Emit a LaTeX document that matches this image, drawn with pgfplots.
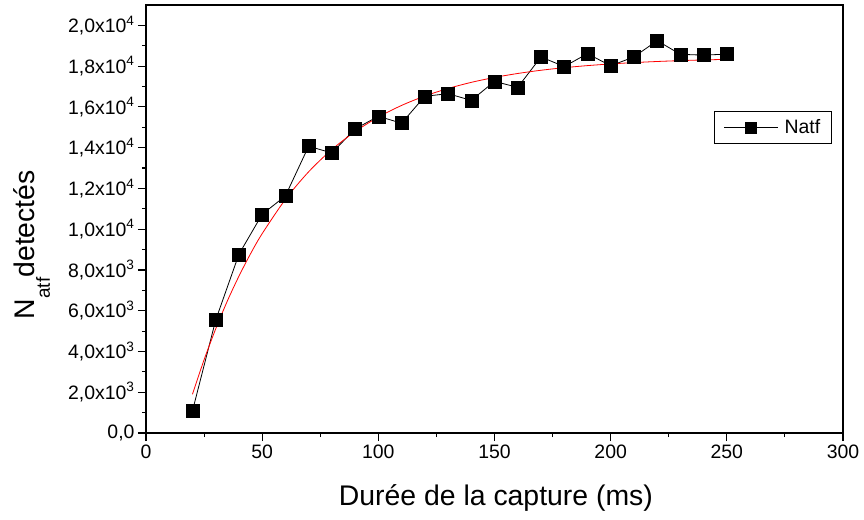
\documentclass[border=0pt]{standalone}
\usepackage{fontspec}
\setmainfont{Liberation Sans}
\usepackage{pgfplots}
\pgfplotsset{compat=1.18}
\begin{document}
\begin{tikzpicture}
\useasboundingbox (-146bp,-87bp) rectangle (718bp,433bp);
\begin{axis}[
  at={(0,0)}, anchor=south west,
  scale only axis, width=697bp, height=428bp,
  xmin=0, xmax=300, ymin=0, ymax=21000,
  xtick={0,50,...,300}, minor x tick num=1,
  ytick={0,2000,...,20000}, minor y tick num=1,
  yticklabels={{0,0},{2,0x10\textsuperscript{3}},{4,0x10\textsuperscript{3}},{6,0x10\textsuperscript{3}},{8,0x10\textsuperscript{3}},{1,0x10\textsuperscript{4}},{1,2x10\textsuperscript{4}},{1,4x10\textsuperscript{4}},{1,6x10\textsuperscript{4}},{1,8x10\textsuperscript{4}},{2,0x10\textsuperscript{4}}},
  scaled y ticks=false,
  /pgf/number format/assume math mode=true,
  tick pos=left, tick align=outside,
  major tick length=8bp, minor tick length=4bp,
  axis line style={line width=1.3bp},
  every tick/.style={line width=1.1bp, black},
  ticklabel style={font=\fontsize{19.5}{22}\selectfont},
  xlabel={Durée de la capture (ms)},
  ylabel={N\raisebox{-15bp}{\fontsize{19}{19}\selectfont atf}detectés},
  label style={font=\fontsize{28.5}{32}\selectfont},
  xlabel style={at={(axis description cs:0.502,0)}, anchor=base, yshift=-72bp},
  ylabel style={at={([xshift=-111bp]axis description cs:0,0.44)}, anchor=base, rotate=0},
  legend style={at={(0.984,0.752)}, anchor=north east, draw=black, line width=1.2bp,
    font=\fontsize{19.5}{22}\selectfont, inner xsep=9bp, inner ysep=6bp, column sep=4bp},
  legend image code/.code={\draw[mark repeat=2,mark phase=2,#1,mark size=5.5bp] plot coordinates {(0bp,0bp) (27bp,0bp) (54bp,0bp)};},
]
\addplot[black, line width=0.8bp, mark=square*, mark size=6.5bp, mark options={fill=black, line width=0.5bp}] coordinates {
(20,1080) (30,5540) (40,8770) (50,10730) (60,11630) (70,14070) (80,13740)
(90,14920) (100,15540) (110,15200) (120,16520) (130,16650) (140,16320)
(150,17250) (160,16960) (170,18450) (180,17980) (190,18610) (200,18020)
(210,18450) (220,19250) (230,18580) (240,18540) (250,18590)
};
\addlegendentry{Natf}
\addplot[red, line width=0.8bp, smooth, forget plot] coordinates {
(20,1900) (25,3592) (30,5109) (35,6473) (40,7694) (45,8795) (50,9781)
(60,11461) (70,12816) (80,13909) (90,14789) (100,15499) (110,16072)
(120,16532) (130,16904) (140,17204) (150,17445) (160,17640) (170,17798)
(180,17924) (190,18026) (200,18108) (210,18174) (220,18228) (230,18271)
(240,18305) (250,18333)
};
\end{axis}
\end{tikzpicture}
\end{document}
